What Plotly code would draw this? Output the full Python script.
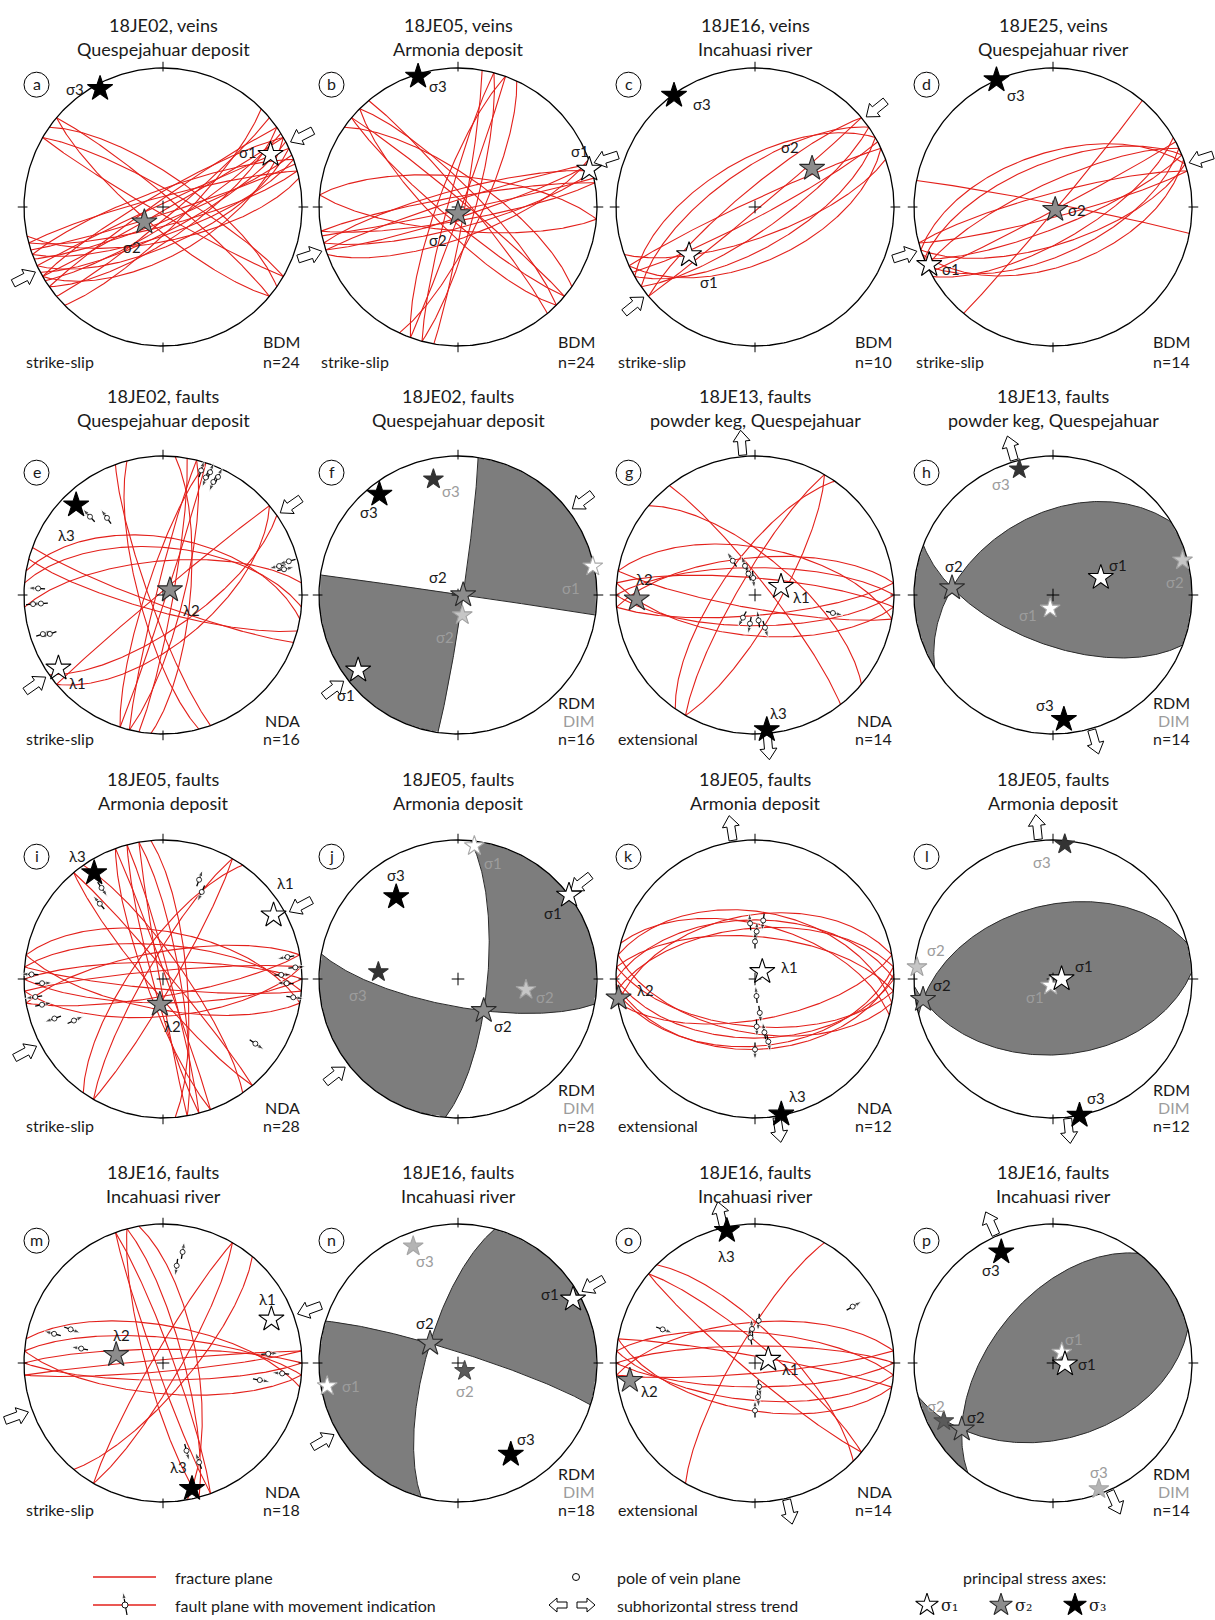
import numpy as np
import plotly.graph_objects as go

# ---------------- page layout (px) ----------------
PAGE_W, PAGE_H = 1215, 1620
NET_R = 139
COL_X = [163, 458, 755, 1053]
ROW_Y = [207, 595, 979, 1363]
TITLE_Y = [25, 396, 779, 1172]
FOOT_Y = [361, 739, 1125, 1509]
FONT = "Lato, 'Noto Sans', sans-serif"
RED = "#e3201b"
GREY_FILL = "#7d7d7d"
DIM_GREY = "#9c9c9c"
INK = "#1a1a1a"

# ---------------- panel metadata ----------------
PANEL_LETTERS = list("abcdefghijklmnop")
TITLE_LINE1 = ["18JE02, veins", "18JE05, veins", "18JE16, veins", "18JE25, veins",
               "18JE02, faults", "18JE02, faults", "18JE13, faults", "18JE13, faults",
               "18JE05, faults", "18JE05, faults", "18JE05, faults", "18JE05, faults",
               "18JE16, faults", "18JE16, faults", "18JE16, faults", "18JE16, faults"]
TITLE_LINE2 = ["Quespejahuar deposit", "Armonia deposit", "Incahuasi river", "Quespejahuar river",
               "Quespejahuar deposit", "Quespejahuar deposit", "powder keg, Quespejahuar",
               "powder keg, Quespejahuar",
               "Armonia deposit", "Armonia deposit", "Armonia deposit", "Armonia deposit",
               "Incahuasi river", "Incahuasi river", "Incahuasi river", "Incahuasi river"]
REGIME = ["strike-slip", "strike-slip", "strike-slip", "strike-slip",
          "strike-slip", "", "extensional", "",
          "strike-slip", "", "extensional", "",
          "strike-slip", "", "extensional", ""]
METHOD = ["BDM", "BDM", "BDM", "BDM", "NDA", "RDM", "NDA", "RDM",
          "NDA", "RDM", "NDA", "RDM", "NDA", "RDM", "NDA", "RDM"]
N_MEAS = [24, 24, 10, 14, 16, 16, 14, 14, 28, 28, 12, 12, 18, 18, 14, 14]

# subhorizontal stress trend (azimuth, deg) and arrow sense
SH_TREND = [63, 72, 51, 72, 55, 53, 355, 344, 62, 52, 351, 354, 70, 60, 347, 336]
SH_SENSE = ["in", "in", "in", "in", "in", "in", "out", "out",
            "in", "in", "out", "out", "in", "in", "out", "out"]

# ---------------- fracture / fault planes: (dip direction, dip) ----------------
PLANES_A = [(135, 78), (140, 84), (145, 72), (148, 80), (150, 88), (152, 76), (155, 68), (158, 82),
            (160, 74), (162, 86), (165, 79), (168, 70), (325, 86), (330, 82), (335, 88), (340, 80),
            (345, 84), (150, 62), (30, 80), (35, 72), (40, 84), (210, 86), (220, 78)]
PLANES_B = [(162, 84), (165, 78), (168, 88), (170, 82), (342, 86), (345, 80), (350, 84), (160, 72),
            (5, 72), (185, 76), (100, 86), (105, 80), (110, 88), (285, 84), (290, 78), (115, 76),
            (40, 86), (45, 78), (50, 84), (220, 82), (225, 76), (35, 72)]
PLANES_C = [(145, 76), (150, 66), (152, 84), (155, 58), (160, 72), (320, 80), (325, 68), (330, 62),
            (335, 86), (140, 88)]
PLANES_D = [(150, 70), (155, 62), (158, 78), (160, 55), (162, 68), (165, 84), (335, 76), (338, 64),
            (342, 58), (345, 82), (152, 88), (11, 88), (130, 88)]
PLANES_E = [(100, 84), (104, 78), (108, 88), (284, 86), (288, 80), (95, 74), (195, 80), (200, 84),
            (5, 62), (355, 70), (10, 56), (250, 82), (255, 76), (140, 62), (145, 70), (320, 88)]
PLANES_G = [(0, 74), (355, 68), (5, 80), (180, 72), (185, 66), (175, 78), (190, 82), (10, 62),
            (52, 82), (40, 68), (300, 80), (120, 76), (305, 70)]
PLANES_I = [(0, 80), (5, 70), (355, 85), (180, 76), (185, 84), (175, 68), (190, 72), (10, 62),
            (170, 80), (350, 74), (75, 86), (80, 80), (70, 88), (255, 84), (250, 80), (260, 88),
            (85, 76), (300, 80), (305, 72), (120, 84), (50, 86), (230, 82), (55, 78)]
PLANES_K = [(0, 55), (355, 60), (10, 50), (5, 65), (350, 52), (180, 55), (185, 62), (175, 50),
            (190, 58), (170, 66), (178, 48), (15, 58)]
PLANES_M = [(0, 82), (5, 75), (355, 88), (180, 80), (185, 72), (10, 68), (175, 85), (70, 84),
            (75, 78), (250, 86), (255, 80), (80, 70), (300, 84), (120, 80), (130, 74)]
PLANES_O = [(0, 80), (5, 72), (355, 66), (180, 76), (185, 68), (175, 84), (190, 62), (10, 86),
            (40, 80), (220, 84), (45, 72), (300, 78)]
PLANES = {"a": PLANES_A, "b": PLANES_B, "c": PLANES_C, "d": PLANES_D, "e": PLANES_E,
          "g": PLANES_G, "i": PLANES_I, "k": PLANES_K, "m": PLANES_M, "o": PLANES_O}

# ---------------- fault poles with slip sense: (trend, plunge, sense) ----------------
POLES_E = [(17, 7, 1), (20, 11, -1), (21, 6, 1), (24, 12, -1), (25, 7, 1),
           (273, 11, 1), (266, 7, -1), (266, 13, 1), (252, 10, -1), (251, 15, 1),
           (76, 15, -1), (78, 12, 1), (75, 7, -1), (317, 24, 1), (324, 32, 1)]
POLES_G = [(327, 66, 1), (341, 72, 1), (354, 80, -1), (343, 77, 1), (208, 75, 1),
           (190, 73, 1), (172, 75, -1), (163, 70, 1), (103, 42, 1)]
POLES_I = [(262, 8, 1), (268, 14, -1), (272, 6, 1), (258, 12, -1), (250, 18, 1),
           (80, 10, -1), (85, 5, 1), (92, 12, -1), (98, 6, 1), (88, 16, 1),
           (20, 25, 1), (24, 32, -1), (320, 30, 1), (326, 22, -1), (125, 20, 1), (245, 30, -1)]
POLES_K = [(355, 57, 1), (2, 62, 1), (8, 55, -1), (0, 68, 1), (175, 80, -1),
           (172, 70, 1), (178, 62, 1), (170, 58, -1), (168, 52, 1), (180, 48, 1)]
POLES_M = [(10, 20, 1), (8, 30, -1), (285, 20, 1), (290, 30, -1), (280, 40, 1),
           (85, 25, 1), (95, 15, -1), (100, 30, 1), (160, 25, -1), (165, 35, 1)]
POLES_O = [(355, 70, 1), (5, 65, -1), (350, 75, 1), (175, 70, 1), (180, 62, -1),
           (170, 76, 1), (60, 20, 1), (290, 30, -1)]
POLES = {"e": POLES_E, "g": POLES_G, "i": POLES_I, "k": POLES_K, "m": POLES_M, "o": POLES_O}

# ---------------- principal stress axes: (label, trend, plunge, solution) ----------------
# solution: "R" main result, "D" dimmed result, "D*" dimmed result with alternate shading
AXES_A = [("σ1", 64, 15, "R"), ("σ2", 231, 76, "R"), ("σ3", 332, 4, "R")]
AXES_B = [("σ1", 74, 2, "R"), ("σ2", 180, 86, "R"), ("σ3", 343, 2, "R")]
AXES_C = [("σ1", 234, 41, "R"), ("σ2", 56, 49, "R"), ("σ3", 324, 1, "R")]
AXES_D = [("σ1", 245, 2, "R"), ("σ2", 140, 88, "R"), ("σ3", 336, 0, "R")]
AXES_E = [("λ1", 235, 9, "R"), ("λ2", 54, 85, "R"), ("λ3", 316, 11, "R")]
AXES_F = [("σ1", 233, 11, "R"), ("σ2", 90, 87, "R"), ("σ3", 322, 9, "R"),
          ("σ1", 78, 1, "D"), ("σ2", 168, 78, "D"), ("σ3", 348, 16, "D")]
AXES_G = [("λ1", 72, 74, "R"), ("λ2", 268, 16, "R"), ("λ3", 175, 3, "R")]
AXES_H = [("σ1", 70, 60, "R"), ("σ2", 274, 28, "R"), ("σ3", 175, 11, "R"),
          ("σ1", 192, 82, "D"), ("σ2", 75, 4, "D"), ("σ3", 345, 7, "D")]
AXES_I = [("λ1", 60, 9, "R"), ("λ2", 187, 75, "R"), ("λ3", 327, 10, "R")]
AXES_J = [("σ1", 53, 0, "R"), ("σ2", 141, 66, "R"), ("σ3", 323, 27, "R"),
          ("σ1", 7, 4, "D"), ("σ2", 99, 49, "D"), ("σ3", 275, 42, "D")]
AXES_K = [("λ1", 45, 84, "R"), ("λ2", 262, 1, "R"), ("λ3", 169, 1, "R")]
AXES_L = [("σ1", 90, 85, "R"), ("σ2", 261, 6, "R"), ("σ3", 169, 0, "R"),
          ("σ1", 200, 86, "D"), ("σ2", 275, 2, "D"), ("σ3", 5, 3, "D")]
AXES_M = [("λ1", 68, 17, "R"), ("λ2", 280, 62, "R"), ("λ3", 167, 8, "R")]
AXES_N = [("σ1", 61, 6, "R"), ("σ2", 305, 70, "R"), ("σ3", 150, 25, "R"),
          ("σ1", 260, 5, "D"), ("σ2", 140, 84, "D*"), ("σ3", 339, 11, "D*")]
AXES_O = [("λ1", 75, 82, "R"), ("λ2", 262, 10, "R"), ("λ3", 348, 3, "R")]
AXES_P = [("σ1", 95, 83, "R"), ("σ2", 234, 20, "R"), ("σ3", 335, 13, "R"),
          ("σ1", 40, 82, "D"), ("σ2", 242, 12, "D*"), ("σ3", 160, 4, "D*")]
AXES = {"a": AXES_A, "b": AXES_B, "c": AXES_C, "d": AXES_D, "e": AXES_E, "f": AXES_F,
        "g": AXES_G, "h": AXES_H, "i": AXES_I, "j": AXES_J, "k": AXES_K, "l": AXES_L,
        "m": AXES_M, "n": AXES_N, "o": AXES_O, "p": AXES_P}

# label offsets next to each star (px, right / up), same order as the axes lists
LABEL_SHIFT = {
    "a": [(-23, 3), (-12, -25), (-25, 0)],
    "b": [(-9, 18), (-20, -26), (20, -10)],
    "c": [(20, -27), (-22, 22), (28, -8)],
    "d": [(22, -4), (22, 0), (20, -15)],
    "e": [(19, -15), (22, -20), (-10, -30)],
    "f": [(-12, -25), (-25, 18), (-10, -18), (-22, -22), (-17, -22), (18, -12)],
    "g": [(20, -10), (8, 20), (12, 17)],
    "h": [(17, 13), (2, 22), (-19, 15), (-22, -7), (-8, -22), (-18, -15)],
    "i": [(12, 32), (13, -22), (-17, 17)],
    "j": [(-16, -18), (19, -15), (0, 22), (19, -17), (19, -7), (-20, -23)],
    "k": [(27, 5), (27, 8), (16, 18)],
    "l": [(22, 13), (19, 15), (16, 17), (-16, -12), (19, 17), (-23, -18)],
    "m": [(-4, 20), (5, 20), (-14, 22)],
    "n": [(-23, 5), (-5, 20), (15, 15), (24, 0), (0, -20), (12, -15)],
    "o": [(22, -10), (20, -10), (0, -25)],
    "p": [(22, 0), (14, 12), (-10, -18), (12, 14), (-8, 15), (0, 17)],
}


# ---------------- equal-area, lower-hemisphere projection ----------------
def unit(trend, plunge):
    t, p = np.radians(trend), np.radians(plunge)
    return np.array([np.sin(t) * np.cos(p), np.cos(t) * np.cos(p), np.sin(p)])


def project(v):
    v = np.atleast_2d(np.asarray(v, float))
    v = np.where(v[:, 2:3] < 0, -v, v)
    h = np.hypot(v[:, 0], v[:, 1])
    theta = np.arctan2(h, v[:, 2])
    rho = np.sqrt(2.0) * np.sin(theta / 2.0)
    safe = np.where(h > 1e-12, h, 1.0)
    x = np.where(h > 1e-12, rho * v[:, 0] / safe, 0.0)
    y = np.where(h > 1e-12, rho * v[:, 1] / safe, 0.0)
    return x, y


def great_circle(normal, npts=181):
    n = np.asarray(normal, float)
    n = n / np.linalg.norm(n)
    u = np.cross(n, [0.0, 0.0, 1.0])
    if np.linalg.norm(u) < 1e-9:
        u = np.array([1.0, 0.0, 0.0])
    u = u / np.linalg.norm(u)
    w = np.cross(n, u)
    if w[2] < 0:
        w = -w
    a = np.linspace(0, np.pi, npts)
    pts = np.outer(np.cos(a), u) + np.outer(np.sin(a), w)
    return project(pts)


def plane_normal(dipdir, dip):
    return unit(dipdir + 180.0, 90.0 - dip)


def hollow_arrow(theta, inward, length=25, head_len=11, head_w=17, shaft_w=8):
    e = np.array([np.sin(np.radians(theta)), np.cos(np.radians(theta))])
    u = -e if inward else e
    w = np.array([u[1], -u[0]])
    half = length / 2.0
    dist = (1.03 if inward else 1.01) + half / NET_R
    c = dist * e
    loc = [(-half, -shaft_w / 2), (half - head_len, -shaft_w / 2), (half - head_len, -head_w / 2),
           (half, 0), (half - head_len, head_w / 2), (half - head_len, shaft_w / 2),
           (-half, shaft_w / 2), (-half, -shaft_w / 2)]
    pts = np.array([c + (a * u + b * w) / NET_R for a, b in loc])
    return pts[:, 0], pts[:, 1]


def star_style(label, method):
    idx = label[-1]
    if method == "D":
        fill = {"1": "white", "2": "#c6c6c6", "3": "#333333"}[idx]
        edge = {"1": "#a8a8a8", "2": "#a0a0a0", "3": "#333333"}[idx]
        return fill, edge, 15, DIM_GREY
    if method == "D*":
        fill = {"1": "white", "2": "#5a5a5a", "3": "#b4b4b4"}[idx]
        edge = {"1": "#a8a8a8", "2": "#4a4a4a", "3": "#a6a6a6"}[idx]
        return fill, edge, 15, DIM_GREY
    fill = {"1": "white", "2": "#8c8c8c", "3": "black"}[idx]
    edge = {"1": "black", "2": "#2a2a2a", "3": "black"}[idx]
    return fill, edge, 19, INK


fig = go.Figure()
annotations = []
layout_axes = {}

for k, letter in enumerate(PANEL_LETTERS):
    row, col = divmod(k, 4)
    cx, cy = COL_X[col], ROW_Y[row]
    sfx = "" if k == 0 else str(k + 1)
    xa, ya = "x" + sfx, "y" + sfx

    left, right = max(0, cx - 178), min(PAGE_W, cx + 178)
    top, bottom = max(0, cy - 215), min(PAGE_H, cy + 172)
    layout_axes["xaxis" + sfx] = dict(domain=[left / PAGE_W, right / PAGE_W],
                                      range=[(left - cx) / NET_R, (right - cx) / NET_R],
                                      visible=False, fixedrange=True, anchor=ya)
    layout_axes["yaxis" + sfx] = dict(domain=[1 - bottom / PAGE_H, 1 - top / PAGE_H],
                                      range=[(cy - bottom) / NET_R, (cy - top) / NET_R],
                                      visible=False, fixedrange=True, anchor=xa)

    def add(tr):
        tr.update(xaxis=xa, yaxis=ya, showlegend=False, hoverinfo="skip")
        fig.add_trace(tr)

    axes = AXES[letter]

    # right-dihedra fields (RDM panels): compressional dihedra shaded
    if METHOD[k] == "RDM":
        s1 = [unit(t, p) for (lab, t, p, m) in axes if m == "R" and lab.endswith("1")][0]
        s2 = [unit(t, p) for (lab, t, p, m) in axes if m == "R" and lab.endswith("2")][0]
        s1 = s1 - np.dot(s1, s2) * s2
        s1 /= np.linalg.norm(s1)
        s3 = np.cross(s1, s2)
        g = np.linspace(-1.0, 1.0, 221)
        GX, GY = np.meshgrid(g, g)
        RHO = np.hypot(GX, GY)
        inside = RHO <= 1.0
        theta = 2 * np.arcsin(np.clip(RHO / np.sqrt(2.0), 0, 1))
        az = np.arctan2(GX, GY)
        V = np.stack([np.sin(theta) * np.sin(az), np.sin(theta) * np.cos(az), np.cos(theta)], -1)
        Z = np.abs(V @ s1) - np.abs(V @ s3)
        Z = np.where(inside, Z, -1.0).round(3)
        # constraint contours shade the side that fails the test, i.e. Z > 0 here
        add(go.Contour(x=g, y=g, z=Z, contours=dict(type="constraint", operation="<", value=0),
                       fillcolor=GREY_FILL, line=dict(width=0), showscale=False))
        for sgn in (1, -1):
            gx, gy = great_circle((s1 + sgn * s3) / np.sqrt(2))
            add(go.Scatter(x=gx, y=gy, mode="lines", line=dict(color="#2b2b2b", width=1)))

    # fracture / fault great circles
    if letter in PLANES:
        xs, ys = [], []
        for dd, dip in PLANES[letter]:
            gx, gy = great_circle(plane_normal(dd, dip))
            xs += list(gx) + [None]
            ys += list(gy) + [None]
        add(go.Scatter(x=xs, y=ys, mode="lines", line=dict(color=RED, width=1.1)))

    # primitive circle, N-E-S-W ticks and centre cross
    a = np.linspace(0, 2 * np.pi, 361)
    add(go.Scatter(x=np.sin(a), y=np.cos(a), mode="lines", line=dict(color="black", width=1.3)))
    tx, ty = [], []
    for t in (0, 90, 180, 270):
        e = np.array([np.sin(np.radians(t)), np.cos(np.radians(t))])
        tx += [0.975 * e[0], 1.045 * e[0], None]
        ty += [0.975 * e[1], 1.045 * e[1], None]
    add(go.Scatter(x=tx, y=ty, mode="lines", line=dict(color="black", width=1)))
    add(go.Scatter(x=[0], y=[0], mode="markers",
                   marker=dict(symbol="cross-thin", size=9, line=dict(color="black", width=1))))

    # fault poles with movement arrows (NDA panels)
    if letter in POLES:
        px_, py_ = [], []
        for tr_, pl_, sense in POLES[letter]:
            x0, y0 = project(unit(tr_, pl_))
            x0, y0 = float(x0[0]), float(y0[0])
            r0 = np.hypot(x0, y0)
            e = np.array([x0, y0]) / r0 if r0 > 1e-6 else np.array([0.0, 1.0])
            d = sense * e
            add(go.Scatter(x=[x0 - 0.05 * d[0], x0 + 0.075 * d[0]], y=[y0 - 0.05 * d[1], y0 + 0.075 * d[1]],
                           mode="lines+markers", line=dict(color="black", width=1.3),
                           marker=dict(symbol="arrow", size=[0, 7], angleref="previous", color="black")))
            px_.append(x0)
            py_.append(y0)
        add(go.Scatter(x=px_, y=py_, mode="markers",
                       marker=dict(symbol="circle", size=5, color="white",
                                   line=dict(color="black", width=0.8))))

    # subhorizontal stress trend arrows
    inward = SH_SENSE[k] == "in"
    for th in (SH_TREND[k], SH_TREND[k] + 180):
        hx, hy = hollow_arrow(th, inward)
        add(go.Scatter(x=hx, y=hy, mode="lines", fill="toself", fillcolor="white",
                       line=dict(color="black", width=1)))

    # principal stress axes (dimmed solution first, then the main one)
    shifts = LABEL_SHIFT[letter]
    order = sorted(range(len(axes)), key=lambda i: 0 if axes[i][3].startswith("D") else 1)
    for i in order:
        lab, t, p, m = axes[i]
        fill, edge, size, tcol = star_style(lab, m)
        sx, sy = project(unit(t, p))
        add(go.Scatter(x=sx, y=sy, mode="markers",
                       marker=dict(symbol="star", size=size, color=fill,
                                   line=dict(color=edge, width=1.1))))
        dx, dy = shifts[i]
        annotations.append(dict(xref=xa, yref=ya, x=float(sx[0]), y=float(sy[0]), xshift=dx, yshift=dy,
                                text=lab, showarrow=False, font=dict(family=FONT, size=15, color=tcol)))

    # panel letter in a circle
    add(go.Scatter(x=[-0.91], y=[0.88], mode="markers",
                   marker=dict(symbol="circle", size=25, color="white", line=dict(color="black", width=1))))
    annotations.append(dict(xref=xa, yref=ya, x=-0.91, y=0.885, text=letter, showarrow=False,
                            font=dict(family=FONT, size=16, color=INK)))

    # titles
    for j, txt in enumerate((TITLE_LINE1[k], TITLE_LINE2[k])):
        annotations.append(dict(xref=xa, yref=ya, x=0, y=(cy - TITLE_Y[row] - 24 * j) / NET_R,
                                text=txt, showarrow=False, font=dict(family=FONT, size=18, color=INK)))

    # footer: regime, method, n
    fy = (cy - FOOT_Y[row]) / NET_R
    if REGIME[k]:
        annotations.append(dict(xref=xa, yref=ya, x=-1.0, y=fy, xanchor="left", text=REGIME[k],
                                showarrow=False, font=dict(family=FONT, size=16, color=INK)))
    foot = [("n=%d" % N_MEAS[k], INK)]
    if METHOD[k] == "RDM":
        foot = [("RDM", INK), ("DIM", DIM_GREY)] + foot
    else:
        foot = [(METHOD[k], INK)] + foot
    step = 20 if row == 0 else 18
    for j, (txt, colr) in enumerate(reversed(foot)):
        annotations.append(dict(xref=xa, yref=ya, x=1.0, y=fy + j * step / NET_R, xanchor="right",
                                text=txt, showarrow=False, font=dict(family=FONT, size=16, color=colr)))

# ---------------- key ----------------
LEG_TOP = 1548
sfx = "17"
layout_axes["xaxis" + sfx] = dict(domain=[0, 1], range=[0, PAGE_W], visible=False, fixedrange=True, anchor="y17")
layout_axes["yaxis" + sfx] = dict(domain=[0, 1 - LEG_TOP / PAGE_H], range=[PAGE_H, LEG_TOP],
                                  visible=False, fixedrange=True, anchor="x17")


def addk(tr):
    tr.update(xaxis="x17", yaxis="y17", showlegend=False, hoverinfo="skip")
    fig.add_trace(tr)


Y1, Y2 = 1577, 1605
addk(go.Scatter(x=[93, 156], y=[Y1, Y1], mode="lines", line=dict(color=RED, width=1.3)))
addk(go.Scatter(x=[93, 156], y=[Y2, Y2], mode="lines", line=dict(color=RED, width=1.3)))
addk(go.Scatter(x=[127, 123], y=[1615, 1592], mode="lines+markers", line=dict(color="black", width=1.2),
                marker=dict(symbol="arrow", size=[0, 7], angleref="previous", color="black")))
addk(go.Scatter(x=[125], y=[Y2], mode="markers",
                marker=dict(symbol="circle", size=6, color="white", line=dict(color="black", width=0.9))))
addk(go.Scatter(x=[576], y=[Y1], mode="markers",
                marker=dict(symbol="circle", size=7, color="white", line=dict(color="black", width=1))))
for xc, sgn in ((558, -1), (586, 1)):
    loc = [(-9, -3), (1, -3), (1, -7), (9, 0), (1, 7), (1, 3), (-9, 3), (-9, -3)]
    addk(go.Scatter(x=[xc + sgn * a_ for a_, b_ in loc], y=[Y2 + b_ for a_, b_ in loc], mode="lines",
                    fill="toself", fillcolor="white", line=dict(color="black", width=1)))
for xc, lab, sub in ((927, "1", "₁"), (1001, "2", "₂"), (1075, "3", "₃")):
    fill, edge, size, _ = star_style("σ" + lab, "R")
    addk(go.Scatter(x=[xc], y=[Y2], mode="markers",
                    marker=dict(symbol="star", size=17, color=fill, line=dict(color=edge, width=1.1))))
    annotations.append(dict(xref="x17", yref="y17", x=xc + 12, y=Y2, xanchor="left",
                            text="σ" + sub, showarrow=False,
                            font=dict(family="'DejaVu Serif', serif", size=16, color=INK)))
for x_, y_, txt in ((173, Y1, "fracture plane"), (173, Y2, "fault plane with movement indication"),
                    (615, Y1, "pole of vein plane"), (615, Y2, "subhorizontal stress trend")):
    annotations.append(dict(xref="x17", yref="y17", x=x_, y=y_, xanchor="left", text=txt,
                            showarrow=False, font=dict(family=FONT, size=16, color=INK)))
annotations.append(dict(xref="x17", yref="y17", x=1034, y=Y1, text="principal stress axes:",
                        showarrow=False, font=dict(family=FONT, size=16, color=INK)))

fig.update_layout(width=PAGE_W, height=PAGE_H, margin=dict(l=0, r=0, t=0, b=0),
                  paper_bgcolor="white", plot_bgcolor="rgba(0,0,0,0)",
                  annotations=annotations, **layout_axes)
fig.write_html("out.html")
